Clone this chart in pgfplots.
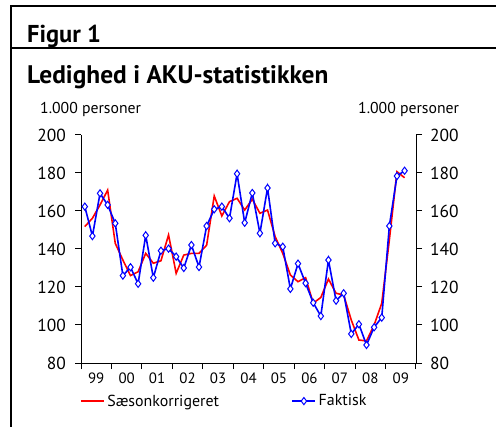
\documentclass[border=0pt]{standalone}
\usepackage{fontspec}
\setmainfont{PT Sans}
\usepackage{pgfplots}
\usepackage{pgfplotstable}
\pgfplotsset{compat=1.18}

\pgfplotstableread{
x y
0.5 151.8
1.5 156.2
2.5 163.2
3.5 171.0
4.5 143.0
5.5 134.2
6.5 126.0
7.5 128.0
8.5 137.7
9.5 132.5
10.5 133.8
11.5 147.4
12.5 127.2
13.5 136.8
14.5 137.7
15.5 137.7
16.5 142.0
17.5 167.9
18.5 157.4
19.5 164.9
20.5 166.7
21.5 160.5
22.5 166.2
23.5 158.8
24.5 160.5
25.5 146.5
26.5 137.7
27.5 126.3
28.5 122.8
29.5 124.9
30.5 111.5
31.5 114.5
32.5 124.2
33.5 116.7
34.5 115.8
35.5 102.6
36.5 92.1
37.5 91.6
38.5 100.0
39.5 111.4
40.5 144.7
41.5 180.7
42.5 177.5
}\saeson

\pgfplotstableread{
x y
0.5 162.3
1.5 146.8
2.5 169.3
3.5 163.2
4.5 153.5
5.5 126.0
6.5 130.4
7.5 121.7
8.5 147.2
9.5 124.9
10.5 139.1
11.5 140.2
12.5 136.0
13.5 130.0
14.5 142.1
15.5 130.5
16.5 152.1
17.5 160.9
18.5 162.3
19.5 156.2
20.5 179.6
21.5 153.8
22.5 169.5
23.5 148.3
24.5 172.1
25.5 143.0
26.5 141.2
27.5 119.0
28.5 132.3
29.5 122.0
30.5 111.7
31.5 104.7
32.5 134.2
33.5 112.8
34.5 116.7
35.5 95.3
36.5 100.4
37.5 89.5
38.5 98.8
39.5 103.9
40.5 152.1
41.5 178.4
42.5 181.2
}\faktisk

\begin{document}
\begin{tikzpicture}[x=1bp,y=1bp]
\path[use as bounding box] (0bp,0bp) rectangle (496bp,427bp);
\draw[line width=1.3bp] (11bp,0bp) -- (11bp,421bp) -- (496bp,421bp);
\draw[line width=1.3bp] (11bp,379bp) -- (496bp,379bp);
\node[anchor=base west, font=\bfseries\fontsize{24.5}{30}\selectfont, inner sep=0] at (27bp,384.5bp) {Figur 1};
\node[anchor=base west, font=\bfseries\fontsize{25.5}{32}\selectfont, inner sep=0] at (27bp,343.5bp) {Ledighed i AKU-statistikken};
\node[anchor=base west, font=\fontsize{15.8}{18}\selectfont, inner sep=0] at (40bp,313bp) {1.000 personer};
\node[anchor=base west, font=\fontsize{15.8}{18}\selectfont, inner sep=0] at (358bp,313bp) {1.000 personer};

\pgfplotsset{
  common/.style={
    at={(81bp,64bp)}, anchor=south west, scale only axis,
    width=335bp, height=228bp,
    xmin=0, xmax=44, ymin=80, ymax=200,
    ytick={80,100,...,200},
    tick align=outside,
    major tick length=6bp,
    axis line style={line width=1bp},
    tick style={line width=1bp, black},
    /pgf/number format/assume math mode=true,
    yticklabel style={font=\fontsize{17.5}{20}\selectfont, inner sep=0pt},
  }
}

\begin{axis}[common,
  axis x line*=bottom, axis y line*=left,
  xtick={0,4,...,44},
  x tick label as interval,
  xticklabels={99,00,01,02,03,04,05,06,07,08,09},
  xticklabel style={font=\fontsize{15}{17}\selectfont, inner sep=0pt},
  xticklabel shift=4bp,
  yticklabel shift=9bp,
  legend columns=2,
  legend style={draw=none, fill=none, at={(axis description cs:-0.003,-0.167)}, anchor=west,
    font=\fontsize{16}{18}\selectfont, inner sep=0pt,
    nodes={inner sep=2.5bp},
    /tikz/every even column/.append style={column sep=70bp}},
  legend cell align=left,
]
\addlegendimage{legend image code/.code={\draw[color=red, line width=1.6bp] (0bp,0bp) -- (23bp,0bp);}}
\addlegendentry{Sæsonkorrigeret}
\addlegendimage{legend image code/.code={\draw[color=blue, line width=1.6bp] (0bp,0bp) -- (23bp,0bp); \draw[blue, fill=white, line width=1bp] plot[mark=diamond*, mark size=3.6bp] coordinates {(11.5bp,0bp)};}}
\addlegendentry{Faktisk}
\addplot[color=red, line width=1.6bp, no marks, forget plot] table[x=x,y=y] {\saeson};
\addplot[color=blue, line width=1.6bp, mark=diamond*, mark size=3.6bp, mark options={fill=white, draw=blue, line width=1bp}, forget plot] table[x=x,y=y] {\faktisk};
\end{axis}

\begin{axis}[common,
  axis x line=none, axis y line*=right,
  xtick=\empty,
  yticklabel shift=8bp,
  yticklabel style={anchor=west},
]
\end{axis}
\end{tikzpicture}
\end{document}
